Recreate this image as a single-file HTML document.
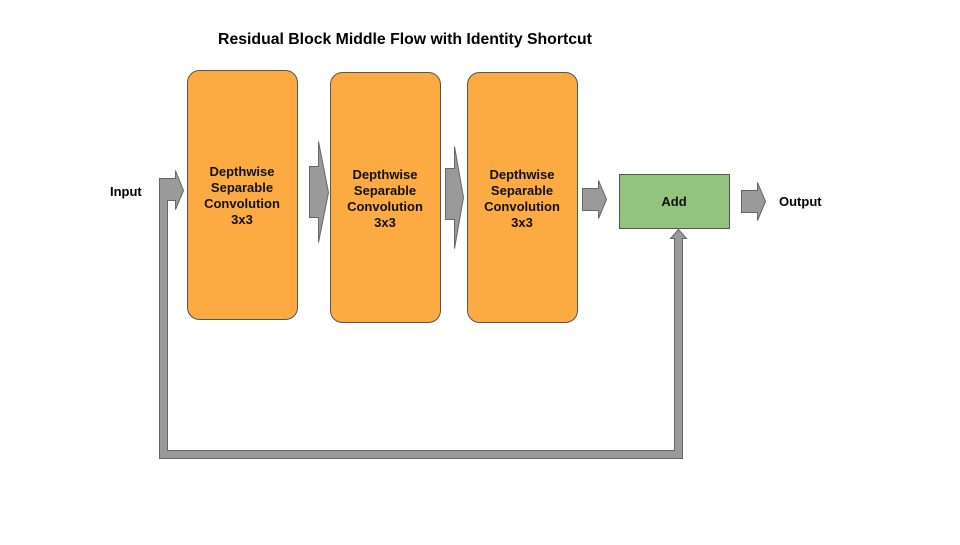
<!DOCTYPE html>
<html><head><style>
body{margin:0;background:#fff;}
</style></head><body>
<svg width="960" height="540" xmlns="http://www.w3.org/2000/svg" font-family="Liberation Sans, Arial, sans-serif" font-weight="bold" font-size="13">
<rect width="960" height="540" fill="#fff"/>
<text x="405" y="44" text-anchor="middle" font-size="15.8">Residual Block Middle Flow with Identity Shortcut</text>
<g fill="#fbab42" stroke="#555" stroke-width="1">
<rect x="187.5" y="70.5" width="110" height="249" rx="12"/>
<rect x="330.5" y="72.5" width="110" height="250" rx="12"/>
<rect x="467.5" y="72.5" width="110" height="250" rx="12"/>
</g>
<rect x="619.5" y="174.5" width="110" height="54" fill="#93c47d" stroke="#555"/>
<g fill="#9a9a9a" stroke="#666" stroke-width="1">
<path d="M159.5 178.5 H175.5 V170.5 L183.5 190.5 L175.5 209.5 V200.5 H167.5 V450.5 H674.5 V238.5 H670.5 L678.5 229.5 L686.5 238.5 H682.5 V458.5 H159.5 Z"/>
<path d="M309.5 166.5 H318.5 V141.5 L328.5 192.5 L318.5 242.5 V217.5 H309.5 Z"/>
<path d="M445.5 168.5 H454.5 V146.5 L463.5 197.5 L454.5 248.5 V219.5 H445.5 Z"/>
<path d="M582.5 188.5 H598.5 V180.5 L606.5 199.5 L598.5 218.5 V210.5 H582.5 Z"/>
<path d="M741.5 190.5 H757.5 V182.5 L765.5 201.5 L757.5 220.5 V212.5 H741.5 Z"/>
</g>
<g text-anchor="middle" fill="#111">
<text x="242" y="176">Depthwise</text><text x="242" y="192">Separable</text><text x="242" y="208">Convolution</text><text x="242" y="224">3x3</text>
<text x="385" y="179">Depthwise</text><text x="385" y="195">Separable</text><text x="385" y="211">Convolution</text><text x="385" y="227">3x3</text>
<text x="522" y="179">Depthwise</text><text x="522" y="195">Separable</text><text x="522" y="211">Convolution</text><text x="522" y="227">3x3</text>
<text x="674" y="206">Add</text>
</g>
<text x="110" y="196">Input</text>
<text x="779" y="206">Output</text>
</svg>
</body></html>
